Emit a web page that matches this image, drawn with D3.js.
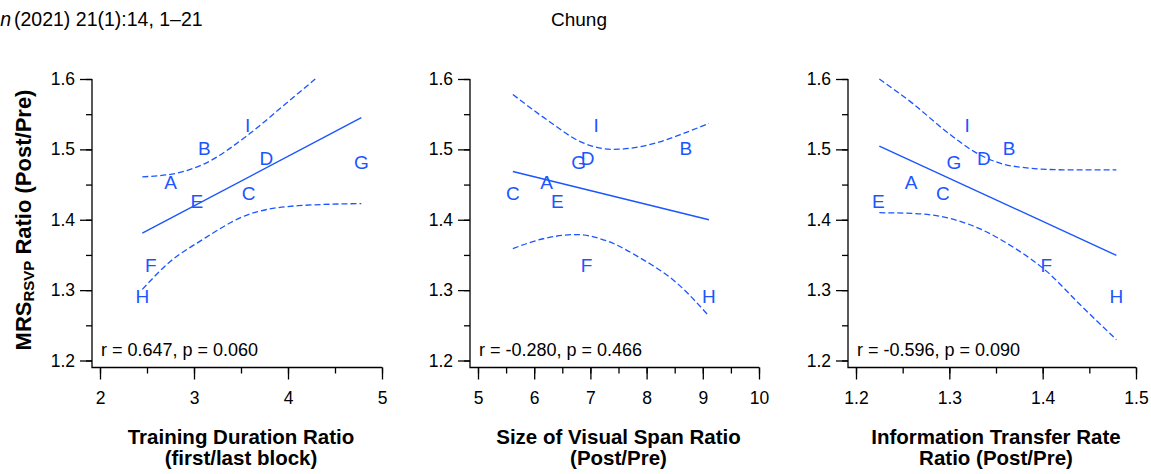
<!DOCTYPE html>
<html>
<head>
<meta charset="utf-8">
<script src="https://cdn.jsdelivr.net/npm/d3@7"></script>
<style>
  body { margin: 0; background: #fff; }
  svg { display: block; font-family: Arial, "Liberation Sans", Helvetica, sans-serif; }
</style>
</head>
<body>
<svg id="chart" width="1151" height="474"></svg>
<script>
(function() {
	'use strict';

	// Subjects and their MRS (RSVP) ratio, shared by all three panels
	const subjects = ['A', 'B', 'C', 'D', 'E', 'F', 'G', 'H', 'I'];
	const mrsRatio = [1.453, 1.502, 1.438, 1.488, 1.427, 1.335, 1.482, 1.292, 1.534];

	// x values per panel
	const trainingDuration = [2.75, 3.11, 3.58, 3.77, 3.03, 2.54, 4.78, 2.45, 3.57];
	const visualSpan = [6.22, 8.70, 5.62, 6.95, 6.41, 6.93, 6.79, 9.11, 7.10];
	const transferRate = [1.259, 1.364, 1.293, 1.337, 1.224, 1.404, 1.305, 1.479, 1.319];

	// regression lines and 95% bands
	const fit1 = [[2.45, 1.381], [4.78, 1.545]];
	const upper1 = [[2.45, 1.461], [2.81, 1.466], [3.11, 1.4795], [3.57, 1.52], [3.95, 1.562], [4.29, 1.6]];
	const lower1 = [[2.45, 1.301], [2.75, 1.341], [3.07, 1.37], [3.57, 1.407], [4.11, 1.42], [4.78, 1.423]];

	const fit2 = [[5.62, 1.4686], [9.11, 1.40]];
	const upper2 = [[5.62, 1.578], [6.28, 1.539], [6.82, 1.511], [7.41, 1.50], [8.12, 1.508], [8.6, 1.521], [9.11, 1.537]];
	const lower2 = [[5.62, 1.359], [6.16, 1.373], [6.76, 1.379], [7.29, 1.37], [7.88, 1.346], [8.54, 1.31], [9.11, 1.263]];

	const fit3 = [[1.225, 1.5047], [1.479, 1.3495]];
	const upper3 = [[1.225, 1.6], [1.261, 1.565], [1.297, 1.525], [1.333, 1.492], [1.369, 1.476], [1.422, 1.471], [1.479, 1.471]];
	const lower3 = [[1.225, 1.41], [1.261, 1.409], [1.297, 1.403], [1.333, 1.387], [1.369, 1.3605], [1.404, 1.327], [1.44, 1.2795], [1.479, 1.2296]];

	// tick labels
	const yTicks = [1.2, 1.3, 1.4, 1.5, 1.6];
	const xTicks1 = [2, 3, 4, 5];
	const xTicks2 = [5, 6, 7, 8, 9, 10];
	const xTicks3 = [1.2, 1.3, 1.4, 1.5];

	const panels = [
		{ xs: trainingDuration, fit: fit1, upper: upper1, lower: lower1,
			domain: [2, 5], ticks: xTicks1, minor: 0.5, fmt: d3.format('d'),
			stat: 'r = 0.647, p = 0.060',
			title: ['Training Duration Ratio', '(first/last block)'],
			left: 92, x0: 100, x1: 382 },
		{ xs: visualSpan, fit: fit2, upper: upper2, lower: lower2,
			domain: [5, 10], ticks: xTicks2, minor: 0.5, fmt: d3.format('d'),
			stat: 'r = -0.280, p = 0.466',
			title: ['Size of Visual Span Ratio', '(Post/Pre)'],
			left: 470, x0: 478, x1: 759 },
		{ xs: transferRate, fit: fit3, upper: upper3, lower: lower3,
			domain: [1.2, 1.5], ticks: xTicks3, minor: 0.05, fmt: d3.format('.1f'),
			stat: 'r = -0.596, p = 0.090',
			title: ['Information Transfer Rate', 'Ratio (Post/Pre)'],
			left: 848, x0: 856, x1: 1136 }
	];

	const blue = '#1a55ff';
	const top = 79, bottom = 367.5;
	const y = d3.scaleLinear().domain([1.2, 1.6]).range([360.5, top]);

	const svg = d3.select('#chart');

	// page header
	svg.append('text').attr('x', 11).attr('y', 26).attr('text-anchor', 'end')
		.attr('font-size', 19.5).attr('font-style', 'italic').text('Journal of Vision');
	svg.append('text').attr('x', 14).attr('y', 26)
		.attr('font-size', 19.5).text('(2021) 21(1):14, 1–21');
	svg.append('text').attr('x', 579).attr('y', 26).attr('text-anchor', 'middle')
		.attr('font-size', 19).text('Chung');

	// y title
	const yTitle = svg.append('text')
		.attr('transform', 'translate(31,220) rotate(-90)')
		.attr('text-anchor', 'middle')
		.attr('font-size', 22).attr('font-weight', 'bold');
	yTitle.append('tspan').text('MRS');
	yTitle.append('tspan').attr('font-size', 15).attr('dy', 3).text('RSVP');
	yTitle.append('tspan').attr('dy', -3).text(' Ratio (Post/Pre)');

	panels.forEach(function(p) {
		const x = d3.scaleLinear().domain(p.domain).range([p.x0, p.x1]);
		const g = svg.append('g');

		// y axis
		const yMinor = d3.range(1.2, 1.6001, 0.05);
		const ya = g.append('g').attr('transform', 'translate(' + p.left + ',0)');
		ya.call(d3.axisLeft(y).tickValues(yMinor).tickSize(6).tickFormat(''));
		ya.append('g').call(d3.axisLeft(y).tickValues(yTicks).tickSize(12).tickPadding(5)
			.tickFormat(d3.format('.1f')));
		ya.selectAll('.domain').remove();
		ya.selectAll('text').attr('font-size', 17.5).attr('fill', '#000')
			.attr('font-family', null);

		// x axis
		const xMinor = d3.range(p.domain[0], p.domain[1] + p.minor / 2, p.minor);
		const xa = g.append('g').attr('transform', 'translate(0,' + bottom + ')');
		xa.call(d3.axisBottom(x).tickValues(xMinor).tickSize(6).tickFormat(''));
		xa.append('g').call(d3.axisBottom(x).tickValues(p.ticks).tickSize(12).tickPadding(12)
			.tickFormat(p.fmt));
		xa.selectAll('.domain').remove();
		xa.selectAll('text').attr('font-size', 17.5).attr('fill', '#000')
			.attr('font-family', null);
		g.selectAll('.tick line').attr('stroke', '#000').attr('stroke-width', 1.3);

		// axis lines meeting at the corner
		g.append('path')
			.attr('d', 'M' + p.left + ',' + top + 'V' + bottom + 'H' + p.x1)
			.attr('fill', 'none').attr('stroke', '#000').attr('stroke-width', 1.3);

		// regression line and bands
		const line = d3.line()
			.x(function(d) { return x(d[0]); })
			.y(function(d) { return y(d[1]); });
		const band = d3.line()
			.x(function(d) { return x(d[0]); })
			.y(function(d) { return y(d[1]); })
			.curve(d3.curveMonotoneX);

		g.append('path').attr('d', line(p.fit))
			.attr('fill', 'none').attr('stroke', blue).attr('stroke-width', 1.4);
		[p.upper, p.lower].forEach(function(b) {
			g.append('path').attr('d', band(b))
				.attr('fill', 'none').attr('stroke', blue).attr('stroke-width', 1.3)
				.attr('stroke-dasharray', '6,3');
		});

		// subject letters
		g.selectAll('text.pt')
			.data(subjects)
			.enter().append('text')
			.attr('class', 'pt')
			.attr('x', function(d, i) { return x(p.xs[i]); })
			.attr('y', function(d, i) { return y(mrsRatio[i]); })
			.attr('dy', '0.36em')
			.attr('text-anchor', 'middle')
			.attr('font-size', 19)
			.attr('fill', blue)
			.text(function(d) { return d; });

		// correlation note
		g.append('text').attr('x', p.left + 9).attr('y', 356)
			.attr('font-size', 18).text(p.stat);

		// x title
		const cx = (p.left + p.x1) / 2 + 4;
		g.append('text').attr('x', cx).attr('y', 444).attr('text-anchor', 'middle')
			.attr('font-size', 20.5).attr('font-weight', 'bold').text(p.title[0]);
		g.append('text').attr('x', cx).attr('y', 465).attr('text-anchor', 'middle')
			.attr('font-size', 20.5).attr('font-weight', 'bold').text(p.title[1]);
	});
})();
</script>
</body>
</html>
